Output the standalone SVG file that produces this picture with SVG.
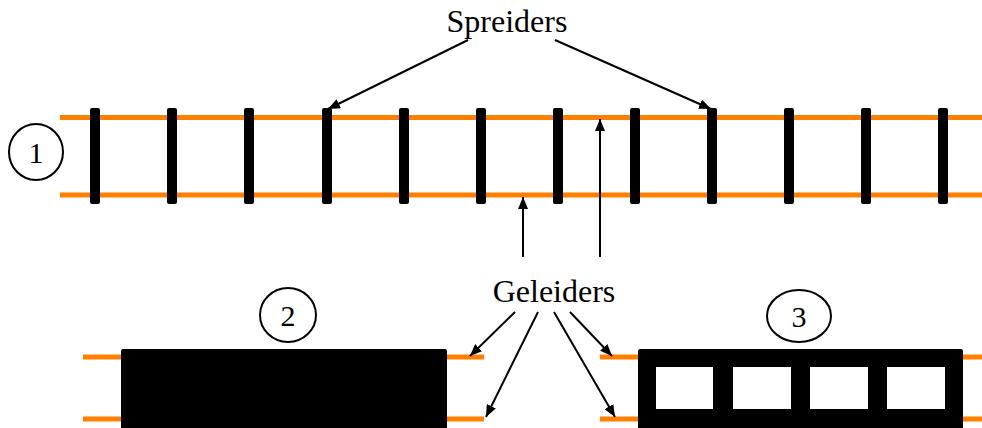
<svg xmlns="http://www.w3.org/2000/svg" width="982" height="428" viewBox="0 0 982 428">
<defs>
<marker id="ah" markerWidth="12" markerHeight="10" refX="12" refY="5" orient="auto" markerUnits="userSpaceOnUse">
<path d="M0,0 L12,5 L0,10 Z" fill="#000"/>
</marker>
<style>
.rail{stroke:#FF8000;stroke-width:5;fill:none}
.sl{fill:#000}
.arr{stroke:#000;stroke-width:2;fill:none;marker-end:url(#ah)}
.num{fill:none;stroke:#000;stroke-width:2}
.t{font-family:"Liberation Serif","Times New Roman",serif;font-size:32px;fill:#000;text-anchor:middle}
.n{font-family:"Liberation Serif","Times New Roman",serif;font-size:30px;fill:#000;text-anchor:middle}
</style>
</defs>
<rect width="982" height="428" fill="#fff"/>
<g id="track1">
<line class="rail" x1="60" y1="117.5" x2="982" y2="117.5"/>
<line class="rail" x1="60" y1="195" x2="982" y2="195"/>
<rect class="sl" x="90" y="108" width="10" height="96" rx="2"/>
<rect class="sl" x="167" y="108" width="10" height="96" rx="2"/>
<rect class="sl" x="244" y="108" width="10" height="96" rx="2"/>
<rect class="sl" x="322" y="108" width="10" height="96" rx="2"/>
<rect class="sl" x="399" y="108" width="10" height="96" rx="2"/>
<rect class="sl" x="476" y="108" width="10" height="96" rx="2"/>
<rect class="sl" x="553" y="108" width="10" height="96" rx="2"/>
<rect class="sl" x="630" y="108" width="10" height="96" rx="2"/>
<rect class="sl" x="707" y="108" width="10" height="96" rx="2"/>
<rect class="sl" x="784" y="108" width="10" height="96" rx="2"/>
<rect class="sl" x="861" y="108" width="10" height="96" rx="2"/>
<rect class="sl" x="938" y="108" width="10" height="96" rx="2"/>
</g>
<g id="label1">
<ellipse class="num" cx="36" cy="152" rx="27" ry="28"/>
<text class="n" x="36" y="163">1</text>
</g>
<g id="track2">
<line class="rail" x1="83" y1="357" x2="484" y2="357"/>
<line class="rail" x1="83" y1="419" x2="484" y2="419"/>
<rect x="121" y="349" width="326" height="90" rx="2" fill="#000"/>
</g>
<g id="label2">
<ellipse class="num" cx="288" cy="315" rx="28" ry="27"/>
<text class="n" x="288" y="326">2</text>
</g>
<g id="track3">
<line class="rail" x1="600" y1="357" x2="982" y2="357"/>
<line class="rail" x1="600" y1="419" x2="982" y2="419"/>
<rect x="638" y="349" width="325" height="90" rx="2" fill="#000"/>
<rect x="656" y="367" width="57" height="42" fill="#fff"/>
<rect x="733" y="367" width="58" height="42" fill="#fff"/>
<rect x="810" y="367" width="58" height="42" fill="#fff"/>
<rect x="887" y="367" width="58" height="42" fill="#fff"/>
</g>
<g id="label3">
<ellipse class="num" cx="799" cy="316" rx="32" ry="26"/>
<text class="n" x="799" y="327">3</text>
</g>
<g id="spreiders">
<text class="t" x="507" y="32">Spreiders</text>
</g>
<g id="geleiders">
<text class="t" x="554" y="302">Geleiders</text>
</g>
<g id="connectors">
<line class="arr" x1="468" y1="40" x2="328" y2="109"/>
<line class="arr" x1="555" y1="40" x2="711" y2="109"/>
<line class="arr" x1="523" y1="257" x2="523" y2="197"/>
<line class="arr" x1="600" y1="257" x2="600" y2="119"/>
<line class="arr" x1="515" y1="312" x2="470" y2="356"/>
<line class="arr" x1="538" y1="312" x2="486" y2="417"/>
<line class="arr" x1="554" y1="312" x2="615" y2="417"/>
<line class="arr" x1="570" y1="312" x2="612" y2="356"/>
</g>
</svg>
